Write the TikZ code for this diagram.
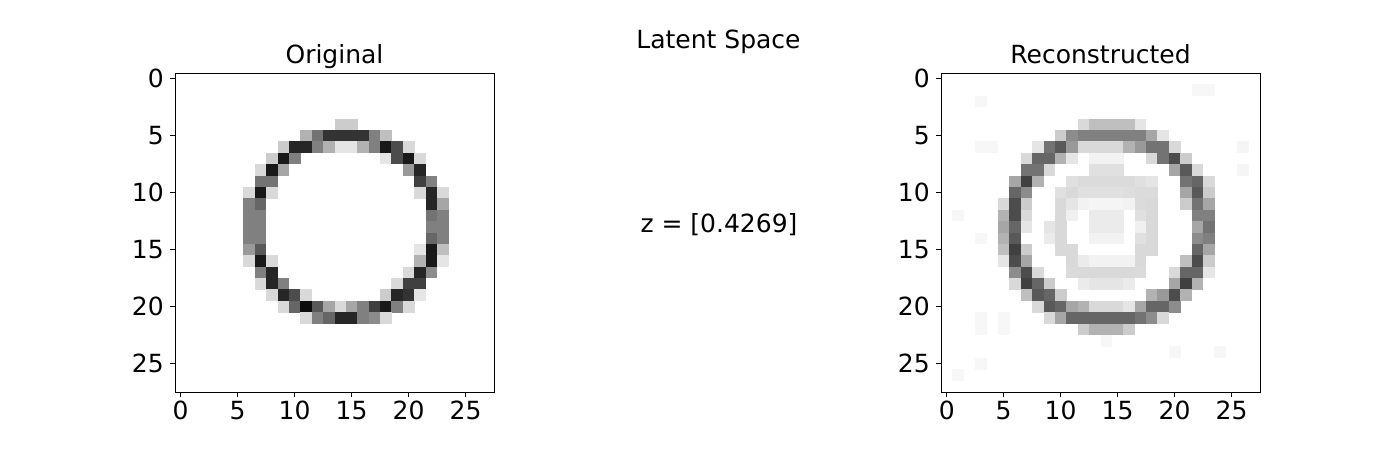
\documentclass[tikz,border=0pt]{standalone}
\usepackage{fontspec}
\setmainfont{DejaVu Sans}
\begin{document}
\begin{tikzpicture}[x=1pt,y=-1pt,
  lbl/.style={inner sep=0pt,font=\fontsize{25}{30}\selectfont},
  frame/.style={draw=black,line width=1.1pt,inner sep=0pt,minimum width=319pt,minimum height=319pt,anchor=north west},
  tick/.style={draw=black,line width=1.1pt}]
\useasboundingbox[fill=white] (0,0) rectangle (1400,467);
\def\s{11.3929}
% ---------- Original image ----------
\foreach \r/\c/\v in {
 4/14/20,4/15/20,
 5/11/30,5/12/55,5/13/80,5/14/80,5/15/80,5/16/80,5/17/50,5/18/25,
 6/9/20,6/10/85,6/11/85,6/12/50,6/13/30,6/14/10,6/15/10,6/16/30,6/17/50,6/18/90,6/19/70,6/20/15,
 7/8/20,7/9/90,7/10/50,7/18/10,7/19/70,7/20/90,7/21/15,
 8/7/15,8/8/90,8/9/35,8/20/40,8/21/85,
 9/7/55,9/8/55,9/21/75,9/22/50,
 10/6/15,10/7/90,10/8/15,10/21/15,10/22/85,10/23/15,
 11/6/50,11/7/60,11/22/85,11/23/35,
 12/6/50,12/7/50,12/22/55,12/23/50,
 13/6/50,13/7/50,13/22/50,13/23/50,
 14/6/50,14/7/50,14/22/60,14/23/50,
 15/6/40,15/7/65,15/21/10,15/22/90,15/23/25,
 16/6/15,16/7/90,16/8/15,16/21/30,16/22/90,16/23/10,
 17/7/50,17/8/85,17/20/15,17/21/85,17/22/45,
 18/7/15,18/8/85,18/9/50,18/19/15,18/20/75,18/21/75,
 19/8/15,19/9/85,19/10/70,19/11/15,19/18/20,19/19/85,19/20/80,19/21/10,
 20/9/15,20/10/60,20/11/95,20/12/65,20/13/35,20/14/15,20/15/35,20/16/50,20/17/75,20/18/90,20/19/50,20/20/15,
 21/11/15,21/12/50,21/13/60,21/14/85,21/15/85,21/16/50,21/17/45,21/18/15}
 \fill[black!\v] ({175+\c*\s},{73+\r*\s}) rectangle ++({\s+0.3},{\s+0.3});
% ---------- Reconstructed image ----------
\foreach \r/\c/\v in {
 1/22/3,1/23/3,2/3/3,6/3/3,6/4/3,6/26/4,8/26/4,12/1/3,14/3/3,21/3/3,22/3/3,21/5/3,22/5/3,24/24/3,25/3/3,26/1/3,23/14/3,24/20/3,
 4/12/15,4/13/25,4/14/25,4/15/25,4/16/25,4/17/10,
 5/10/20,5/11/45,5/12/50,5/13/50,5/14/50,5/15/50,5/16/50,5/17/50,5/18/35,5/19/10,
 6/8/10,6/9/55,6/10/65,6/11/40,6/12/15,6/13/15,6/14/15,6/15/15,6/16/30,6/17/40,6/18/55,6/19/55,6/20/15,
 7/7/15,7/8/60,7/9/60,7/10/30,7/11/10,7/13/5,7/14/5,7/15/5,7/18/15,7/19/55,7/20/70,7/21/20,
 8/7/55,8/8/55,8/9/15,8/13/12,8/14/12,8/15/12,8/20/35,8/21/65,8/22/15,
 9/6/35,9/7/75,9/8/30,9/11/12,9/12/14,9/13/14,9/14/14,9/15/14,9/16/14,9/17/12,9/18/10,9/21/55,9/22/60,9/23/15,
 10/6/60,10/7/45,10/10/12,10/11/15,10/12/12,10/13/12,10/14/12,10/15/12,10/16/13,10/17/14,10/18/14,10/21/35,10/22/65,10/23/20,
 11/5/15,11/6/70,11/7/20,11/10/15,11/11/10,11/12/5,11/13/4,11/14/4,11/15/4,11/16/5,11/17/14,11/18/15,11/21/20,11/22/55,11/23/35,
 12/5/30,12/6/70,12/7/15,12/10/15,12/11/6,12/13/8,12/14/8,12/15/8,12/17/12,12/18/15,12/22/50,12/23/50,
 13/5/35,13/6/60,13/7/10,13/9/10,13/10/15,13/13/8,13/14/8,13/15/8,13/17/6,13/18/15,13/22/35,13/23/55,
 14/5/30,14/6/65,14/9/8,14/10/15,14/13/5,14/14/5,14/15/5,14/17/12,14/18/15,14/22/45,14/23/50,
 15/5/25,15/6/75,15/7/20,15/10/15,15/11/15,15/17/15,15/18/15,15/22/60,15/23/35,
 16/5/10,16/6/70,16/7/35,16/11/15,16/12/8,16/13/5,16/14/5,16/15/5,16/16/5,16/17/15,16/21/25,16/22/70,16/23/20,
 17/6/45,17/7/70,17/8/15,17/11/14,17/12/15,17/13/15,17/14/15,17/15/15,17/16/15,17/17/14,17/20/15,17/21/60,17/22/60,17/23/10,
 18/6/15,18/7/75,18/8/60,18/9/20,18/12/8,18/13/10,18/14/10,18/15/10,18/16/8,18/20/35,18/21/75,18/22/30,
 19/7/25,19/8/65,19/9/60,19/10/20,19/18/30,19/19/40,19/20/70,19/21/30,
 20/8/15,20/9/65,20/10/60,20/11/35,20/12/30,20/13/15,20/14/15,20/15/15,20/16/10,20/17/35,20/18/60,20/19/60,20/20/45,
 21/9/15,21/10/35,21/11/60,21/12/60,21/13/60,21/14/60,21/15/60,21/16/60,21/17/55,21/18/45,21/19/15,
 22/12/20,22/13/30,22/14/30,22/15/30,22/16/20}
 \fill[black!\v] ({941+\c*\s},{73+\r*\s}) rectangle ++({\s+0.3},{\s+0.3});
% ---------- Frames ----------
\node[frame] (axA) at (175,73) {};
\node[frame] (axB) at (941,73) {};
% ---------- Ticks and labels ----------
\foreach \k in {0,5,10,15,20,25} {
  \draw[tick] ({175+(\k+0.5)*\s},392) -- ++(0,5);
  \node[lbl,anchor=north] at ({175+(\k+0.5)*\s},401) {\k};
  \draw[tick] (175,{73+(\k+0.5)*\s}) -- ++(-5,0);
  \node[lbl,anchor=east] at (164,{73+(\k+0.5)*\s}) {\k};
  \draw[tick] ({941+(\k+0.5)*\s},392) -- ++(0,5);
  \node[lbl,anchor=north] at ({941+(\k+0.5)*\s},401) {\k};
  \draw[tick] (941,{73+(\k+0.5)*\s}) -- ++(-5,0);
  \node[lbl,anchor=east] at (930,{73+(\k+0.5)*\s}) {\k};
}
% ---------- Titles ----------
\node[lbl,anchor=base] (tA) at (334.5,63) {Original};
\node[lbl,anchor=base] (tB) at (1100.5,63) {Reconstructed};
\node[lbl,anchor=base] (tL) at (718.5,48) {Latent Space};
\node[lbl,anchor=base] (z) at (719,232) {z = [0.4269]};
\end{tikzpicture}
\end{document}
